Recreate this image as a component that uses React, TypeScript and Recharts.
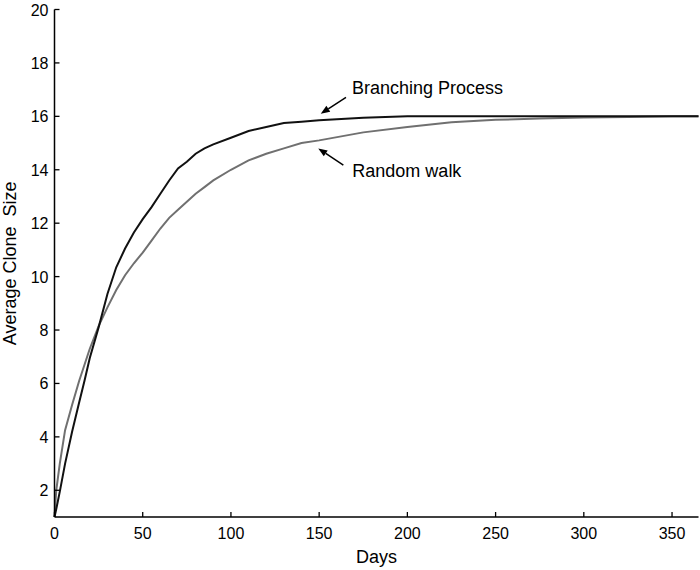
import { LineChart, Line, XAxis, YAxis, ReferenceLine } from "recharts";

// days sampled along the curves
const days = [0, 1, 3, 6, 10, 14, 17, 20, 25, 30, 35, 40, 45, 50, 55, 60, 65, 70, 75, 80, 85, 90, 100, 110, 120, 130, 140, 150, 175, 200, 225, 250, 275, 300, 325, 350, 365];

const branching = [1, 1.3, 1.95, 3.0, 4.2, 5.3, 6.1, 6.95, 8.1, 9.35, 10.35, 11.05, 11.65, 12.15, 12.6, 13.1, 13.6, 14.05, 14.3, 14.6, 14.8, 14.95, 15.2, 15.45, 15.6, 15.75, 15.8, 15.85, 15.95, 16, 16, 16, 16, 16, 16, 16, 16];

const randomWalk = [1, 2.0, 3.0, 4.25, 5.2, 6.1, 6.7, 7.3, 8.15, 8.85, 9.5, 10.05, 10.5, 10.9, 11.35, 11.8, 12.2, 12.5, 12.8, 13.1, 13.35, 13.6, 14.0, 14.35, 14.6, 14.8, 15.0, 15.1, 15.4, 15.6, 15.78, 15.87, 15.92, 15.96, 15.98, 16, 16];

const xTicks = [0, 50, 100, 150, 200, 250, 300, 350];
const yTicks = [2, 4, 6, 8, 10, 12, 14, 16, 18, 20];

// annotation arrows: tail -> head in data units
const annotations = [
  { label: "Branching Process", tail: { x: 165.2, y: 16.71 }, head: { x: 150.9, y: 16.1 }, dx: 6, dy: -3 },
  { label: "Random walk", tail: { x: 163.7, y: 14.17 }, head: { x: 149.5, y: 14.8 }, dx: 9, dy: 12 },
];

const data = days.map((d, i) => ({ day: d, branching: branching[i], random: randomWalk[i] }));

const FONT = "'Liberation Sans', Arial, Helvetica, sans-serif";

function XTick({ x, y, payload }: any) {
  return (
    <g>
      <line x1={x} y1={y} x2={x} y2={y - 5} stroke="#000" strokeWidth={1.3} />
      <text x={x} y={y + 22} textAnchor="middle" fontSize={16} fontFamily={FONT} fill="#000">
        {payload.value}
      </text>
    </g>
  );
}

function YTick({ x, y, payload }: any) {
  return (
    <g>
      <line x1={x} y1={y} x2={x + 5} y2={y} stroke="#000" strokeWidth={1.3} />
      <text x={x - 6} y={y + 6} textAnchor="end" fontSize={16} fontFamily={FONT} fill="#000">
        {payload.value}
      </text>
    </g>
  );
}

function makeArrow(label: string, dx: number, dy: number) {
  return (props: any) => {
    const { x1, y1, x2, y2 } = props;
    const ang = Math.atan2(y2 - y1, x2 - x1);
    const len = 9;
    const w = 3.5;
    const bx = x2 - len * Math.cos(ang);
    const by = y2 - len * Math.sin(ang);
    const px = -Math.sin(ang) * w;
    const py = Math.cos(ang) * w;
    return (
      <g>
        <line x1={x1} y1={y1} x2={bx} y2={by} stroke="#000" strokeWidth={1.5} />
        <polygon points={`${x2},${y2} ${bx + px},${by + py} ${bx - px},${by - py}`} fill="#000" />
        <text x={x1 + dx} y={y1 + dy} fontSize={18} fontFamily={FONT} fill="#000">
          {label}
        </text>
      </g>
    );
  };
}

export default function App() {
  return (
    <div style={{ position: "absolute", left: 0, top: 0, width: 700, height: 570, background: "#fff" }}>
      <LineChart width={700} height={570} data={data} margin={{ top: 9.5, right: 1.5, left: 0, bottom: 0 }}>
        <XAxis
          dataKey="day"
          type="number"
          domain={[0, 365]}
          ticks={xTicks}
          height={53}
          tickSize={0}
          tickMargin={0}
          tick={<XTick />}
          axisLine={{ stroke: "#000", strokeWidth: 1.5 }}
          tickLine={false}
          label={{ value: "Days", position: "insideBottom", offset: 7, fontSize: 18, fontFamily: FONT, fill: "#000" }}
        />
        <YAxis
          type="number"
          domain={[1, 20]}
          ticks={yTicks}
          width={54.5}
          tickSize={0}
          tickMargin={0}
          tick={<YTick />}
          axisLine={{ stroke: "#000", strokeWidth: 1.5 }}
          tickLine={false}
          label={{
            value: "Average Clone\u00A0 Size",
            angle: -90,
            position: "insideLeft",
            offset: 10,
            style: { textAnchor: "middle" },
            fontSize: 18,
            fontFamily: FONT,
            fill: "#000",
          }}
        />
        <Line type="linear" dataKey="random" stroke="#707070" strokeWidth={2} dot={false} isAnimationActive={false} />
        <Line type="linear" dataKey="branching" stroke="#111" strokeWidth={2} dot={false} isAnimationActive={false} />
        {annotations.map((a) => (
          <ReferenceLine
            key={a.label}
            segment={[a.tail, a.head]}
            shape={makeArrow(a.label, a.dx, a.dy)}
          />
        ))}
      </LineChart>
    </div>
  );
}
